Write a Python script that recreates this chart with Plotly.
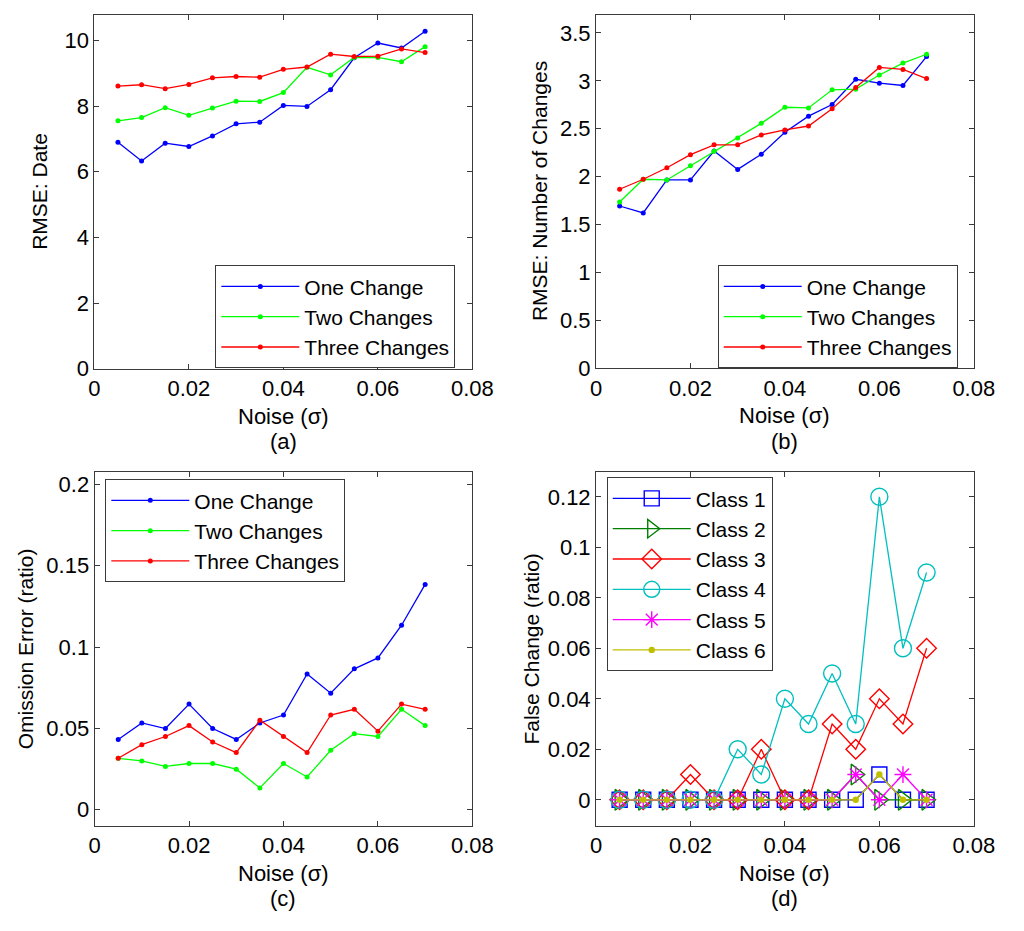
import plotly.graph_objects as go

# ---------------- data ----------------
noise = [0.005, 0.010, 0.015, 0.020, 0.025, 0.030, 0.035,
         0.040, 0.045, 0.050, 0.055, 0.060, 0.065, 0.070]

series_names = ["One Change", "Two Changes", "Three Changes"]

rmse_date_one = [6.90, 6.33, 6.87, 6.77, 7.09, 7.46, 7.51, 8.02, 7.99, 8.50, 9.47, 9.92, 9.77, 10.28]
rmse_date_two = [7.55, 7.65, 7.95, 7.72, 7.94, 8.15, 8.14, 8.41, 9.18, 8.95, 9.48, 9.48, 9.35, 9.81]
rmse_date_three = [8.61, 8.65, 8.53, 8.66, 8.86, 8.90, 8.88, 9.12, 9.19, 9.58, 9.51, 9.52, 9.74, 9.63]

rmse_num_one = [1.694, 1.622, 1.966, 1.966, 2.268, 2.076, 2.234, 2.464, 2.632, 2.753, 3.017, 2.976, 2.952, 3.254]
rmse_num_two = [1.735, 1.973, 1.966, 2.113, 2.265, 2.405, 2.557, 2.725, 2.718, 2.907, 2.914, 3.062, 3.186, 3.278]
rmse_num_three = [1.869, 1.973, 2.093, 2.230, 2.333, 2.333, 2.436, 2.488, 2.529, 2.708, 2.931, 3.141, 3.120, 3.024]

omission_one = [0.0432, 0.0533, 0.0499, 0.0649, 0.0499, 0.0432, 0.0533, 0.0582, 0.0834, 0.0716, 0.0866, 0.0933, 0.1134, 0.1385]
omission_two = [0.0316, 0.0300, 0.0266, 0.0284, 0.0284, 0.0249, 0.0134, 0.0284, 0.0201, 0.0365, 0.0467, 0.0450, 0.0617, 0.0517]
omission_three = [0.0316, 0.0400, 0.0450, 0.0517, 0.0416, 0.0351, 0.0550, 0.0450, 0.0351, 0.0582, 0.0617, 0.0483, 0.0649, 0.0617]

class_names = ["Class 1", "Class 2", "Class 3", "Class 4", "Class 5", "Class 6"]
false_c1 = [0, 0, 0, 0, 0, 0, 0, 0, 0, 0, 0, 0.01, 0, 0]
false_c2 = [0, 0, 0, 0, 0, 0, 0, 0, 0, 0, 0.01, 0, 0, 0]
false_c3 = [0, 0, 0, 0.01, 0, 0, 0.02, 0, 0, 0.03, 0.02, 0.04, 0.03, 0.06]
false_c4 = [0, 0, 0, 0, 0, 0.02, 0.01, 0.04, 0.03, 0.05, 0.03, 0.12, 0.06, 0.09]
false_c5 = [0, 0, 0, 0, 0, 0, 0, 0, 0, 0, 0.01, 0, 0.01, 0]
false_c6 = [0, 0, 0, 0, 0, 0, 0, 0, 0, 0, 0, 0.01, 0, 0]

x_ticks = [0, 0.02, 0.04, 0.06, 0.08]
x_ticklabels = ["0", "0.02", "0.04", "0.06", "0.08"]

# ---------------- styling ----------------
FONT = "Arial, Liberation Sans, Helvetica, sans-serif"
TICK_SIZE = 22
TITLE_SIZE = 22
YTITLE_SIZE = 21
LEGEND_SIZE = 21
W, H = 1024, 931   # target picture size; figure fills the viewport

def px_x(p):
    return p / W

def px_y(p):
    return 1 - p / H

line_colors = ["#0000FF", "#00FF00", "#FF0000"]
class_colors = ["#0000FF", "#008000", "#FF0000", "#00BFBF", "#FF00FF", "#BFBF00"]
class_symbols = ["square-open", "triangle-right-open", "diamond-open", "circle-open", "asterisk-open", "circle"]
class_sizes = [15, 18, 15, 17, 14, 5]

# panel pixel boxes in picture coordinates (left, right, top, bottom)
boxes = {
    1: (90.7, 479, 15, 374),
    2: (606, 994, 15, 373.5),
    3: (91, 479, 478.5, 837.5),
    4: (606, 994, 478.5, 837.5),
}

fig = go.Figure()

def add_lines(idx, ys, legend_name):
    for name, y, c in zip(series_names, ys, line_colors):
        fig.add_trace(go.Scatter(
            x=noise, y=y, name=name, mode="lines+markers",
            line=dict(color=c, width=1.3),
            marker=dict(color=c, size=5, symbol="circle"),
            xaxis="x" if idx == 1 else f"x{idx}",
            yaxis="y" if idx == 1 else f"y{idx}",
            legend=legend_name,
        ))

add_lines(1, [rmse_date_one, rmse_date_two, rmse_date_three], "legend")
add_lines(2, [rmse_num_one, rmse_num_two, rmse_num_three], "legend2")
add_lines(3, [omission_one, omission_two, omission_three], "legend3")

for name, y, c, s, sz in zip(class_names,
                             [false_c1, false_c2, false_c3, false_c4, false_c5, false_c6],
                             class_colors, class_symbols, class_sizes):
    fig.add_trace(go.Scatter(
        x=noise, y=y, name=name, mode="lines+markers",
        line=dict(color=c, width=1.3),
        marker=dict(color=c, size=sz, symbol=s, line=dict(color=c, width=1.4)),
        xaxis="x4", yaxis="y4", legend="legend4",
    ))

y_specs = {
    1: dict(range=[0, 10.78], tickvals=[0, 2, 4, 6, 8, 10], ticktext=["0", "2", "4", "6", "8", "10"]),
    2: dict(range=[0, 3.69], tickvals=[0, 0.5, 1, 1.5, 2, 2.5, 3, 3.5],
            ticktext=["0", "0.5", "1", "1.5", "2", "2.5", "3", "3.5"]),
    3: dict(range=[-0.0099, 0.2077], tickvals=[0, 0.05, 0.1, 0.15, 0.2],
            ticktext=["0", "0.05", "0.1", "0.15", "0.2"]),
    4: dict(range=[-0.0103, 0.1299], tickvals=[0, 0.02, 0.04, 0.06, 0.08, 0.1, 0.12],
            ticktext=["0", "0.02", "0.04", "0.06", "0.08", "0.1", "0.12"]),
}

axis_common = dict(
    showline=True, linecolor="#3a3a3a", linewidth=1, mirror="allticks",
    ticks="inside", ticklen=5, tickcolor="#3a3a3a", tickwidth=1,
    showgrid=False, zeroline=False,
    tickfont=dict(family=FONT, size=TICK_SIZE, color="black"),
)

layout = dict(
    autosize=True, margin=dict(l=0, r=0, t=0, b=0, pad=0),
    paper_bgcolor="white", plot_bgcolor="white",
    font=dict(family=FONT, size=TITLE_SIZE, color="black"),
)

for i, (l, r, t, b) in boxes.items():
    xs = "xaxis" if i == 1 else f"xaxis{i}"
    ys = "yaxis" if i == 1 else f"yaxis{i}"
    yid = "y" if i == 1 else f"y{i}"
    xid = "x" if i == 1 else f"x{i}"
    layout[xs] = dict(domain=[px_x(l), px_x(r)], range=[0, 0.08], tickvals=x_ticks,
                      ticktext=x_ticklabels, anchor=yid, **axis_common)
    layout[ys] = dict(domain=[px_y(b), px_y(t)], anchor=xid, **y_specs[i], **axis_common)

legend_common = dict(
    bgcolor="white", bordercolor="#3a3a3a", borderwidth=1,
    font=dict(family=FONT, size=LEGEND_SIZE, color="black"),
    xanchor="left", yanchor="top", itemwidth=78, tracegroupgap=0,
)
layout["legend"] = dict(x=px_x(215), y=px_y(269), **legend_common)
layout["legend2"] = dict(x=px_x(731), y=px_y(269), **legend_common)
layout["legend3"] = dict(x=px_x(102), y=px_y(486), **legend_common)
layout["legend4"] = dict(x=px_x(617), y=px_y(484), **legend_common)

fig.update_layout(**layout)

# axis labels and panel tags
ylabels = {1: ("RMSE: Date", 35), 2: ("RMSE: Number of Changes", 548),
           3: ("Omission Error (ratio)", 20), 4: ("False Change (ratio)", 540)}
tags = {1: "(a)", 2: "(b)", 3: "(c)", 4: "(d)"}
for i, (l, r, t, b) in boxes.items():
    txt, xpx = ylabels[i]
    fig.add_annotation(text=txt, x=px_x(xpx), y=px_y((t + b) / 2), xref="paper", yref="paper",
                       textangle=-90, showarrow=False, xanchor="center", yanchor="middle",
                       font=dict(family=FONT, size=YTITLE_SIZE, color="black"))
    fig.add_annotation(text="Noise (σ)", x=px_x((l + r) / 2), y=px_y(b + 48),
                       xref="paper", yref="paper", showarrow=False,
                       xanchor="center", yanchor="middle",
                       font=dict(family=FONT, size=TITLE_SIZE, color="black"))
    fig.add_annotation(text=tags[i], x=px_x((l + r) / 2), y=px_y(b + 74),
                       xref="paper", yref="paper", showarrow=False,
                       xanchor="center", yanchor="middle",
                       font=dict(family=FONT, size=TITLE_SIZE, color="black"))

page_fix = ("document.documentElement.style.overflow='hidden';"
            "document.body.style.overflow='hidden';"
            "document.body.style.margin='0';")
fig.write_html("out.html", default_width="100vw", default_height="100vh",
               post_script=page_fix, config={"displayModeBar": False})
